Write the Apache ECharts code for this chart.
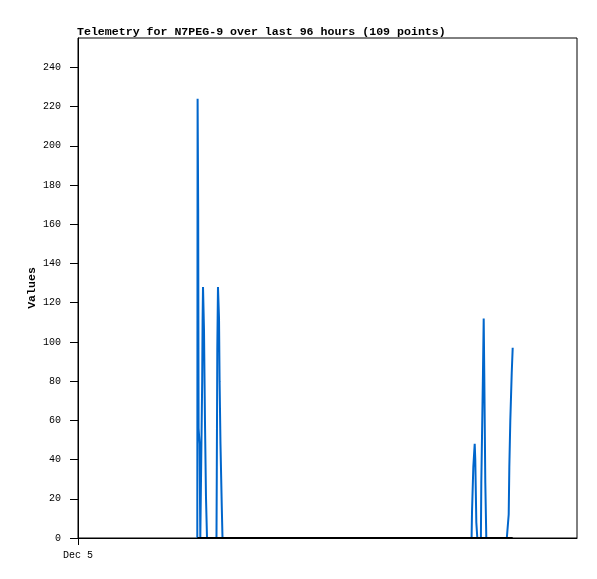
<!DOCTYPE html>
<html>
<head>
<meta charset="utf-8">
<script src="https://cdn.jsdelivr.net/npm/echarts@6/dist/echarts.min.js"></script>
<style>
html,body{margin:0;padding:0;background:#fff;}
#chart{width:597px;height:579px;}
</style>
</head>
<body>
<div id="chart"></div>
<script>
// Time in hours since Dec 5 00:00 (x axis spans 96 hours)
const times = [
  22.95, 23.01, 23.12, 23.20, 23.39, 23.53, 23.82, 23.89, 23.97, 24.05, 24.24, 24.43, 24.62, 24.82,
  25.40, 26.10, 26.64, 26.70, 26.80, 26.93, 27.13, 27.24, 27.41, 27.66, 27.80,
  28.90, 30.10, 31.30, 32.50, 33.80, 35.00, 36.20, 37.40, 38.70, 39.90, 41.10, 42.30, 43.60,
  44.80, 46.00, 47.20, 48.50, 49.70, 50.90, 52.10, 53.40, 54.60, 55.80, 57.00, 58.30, 59.50,
  60.70, 61.90, 63.20, 64.40, 65.60, 66.80, 68.10, 69.30, 70.50, 71.70, 73.00, 74.20, 75.10,
  75.72, 75.80, 76.05, 76.32, 76.43, 76.53, 76.63, 76.82, 77.20, 77.51, 77.59, 77.91, 78.05, 78.16, 78.36, 78.55,
  79.20, 79.90, 80.60, 81.30, 82.00, 82.50,
  82.80, 82.86, 82.98, 83.17, 83.44, 83.63
];
const values = [
  0, 224, 168, 56, 48, 0, 0, 80, 111, 128, 106, 59, 21, 0,
  0, 0, 0, 32, 96, 128, 112, 80, 48, 16, 0,
  0, 0, 0, 0, 0, 0, 0, 0, 0, 0, 0, 0, 0,
  0, 0, 0, 0, 0, 0, 0, 0, 0, 0, 0, 0, 0,
  0, 0, 0, 0, 0, 0, 0, 0, 0, 0, 0, 0, 0,
  0, 13, 36, 48, 40, 24, 8, 0, 0, 0, 28, 84, 112, 84, 28, 0,
  0, 0, 0, 0, 0, 0,
  0, 12, 36, 60, 84, 97
];
const xTickValues = [0];
const xTickLabels = ['Dec 5'];
const yTickValues = [0, 20, 40, 60, 80, 100, 120, 140, 160, 180, 200, 220, 240];
const titleText = 'Telemetry for N7PEG-9 over last 96 hours (109 points)';
const yName = 'Values';

const seriesData = times.map((t, i) => [t, values[i]]);
const baselineData = [[times[0], 0], [times[times.length - 1], 0]];

const chart = echarts.init(document.getElementById('chart'), null, {renderer: 'canvas'});
const mono = '"Liberation Mono", "DejaVu Sans Mono", monospace';
chart.setOption({
  animation: false,
  backgroundColor: '#fff',
  title: {
    text: titleText,
    left: 77,
    top: 26,
    padding: 0,
    textStyle: {fontFamily: mono, fontSize: 11.6, fontWeight: 'bold', color: '#000'}
  },
  graphic: [{
    type: 'text',
    x: 32,
    y: 288,
    rotation: Math.PI / 2,
    silent: true,
    style: {
      text: yName,
      font: 'bold 11.6px ' + mono,
      fill: '#000',
      align: 'center',
      verticalAlign: 'middle'
    }
  }],
  grid: {
    left: 78, top: 38, right: 20, bottom: 41,
    show: true, borderColor: '#000', borderWidth: 1, backgroundColor: 'transparent'
  },
  xAxis: {
    type: 'value',
    min: 0, max: 96,
    z: 1,
    axisLine: {show: true, lineStyle: {color: '#000', width: 1}},
    axisTick: {show: true, customValues: xTickValues, length: 7, inside: false, lineStyle: {color: '#000'}},
    axisLabel: {
      show: true, customValues: xTickValues, margin: 12,
      formatter: (v) => { const i = xTickValues.indexOf(v); return i >= 0 ? xTickLabels[i] : ''; },
      fontFamily: mono, fontSize: 10, color: '#000'
    },
    splitLine: {show: false}
  },
  yAxis: {
    type: 'value',
    min: 0, max: 255,
    axisLine: {show: true, lineStyle: {color: '#000', width: 1}},
    axisTick: {show: true, customValues: yTickValues, length: 8, inside: false, lineStyle: {color: '#000'}},
    axisLabel: {
      show: true, customValues: yTickValues, margin: 17,
      fontFamily: mono, fontSize: 10, color: '#000'
    },
    splitLine: {show: false}
  },
  series: [
    {
      type: 'line',
      data: seriesData,
      showSymbol: false,
      symbol: 'none',
      lineStyle: {color: '#0066cc', width: 2},
      z: 2,
      silent: true
    },
    {
      type: 'line',
      data: baselineData,
      showSymbol: false,
      symbol: 'none',
      lineStyle: {color: '#000', width: 2},
      z: 3,
      silent: true
    }
  ]
});
</script>
</body>
</html>
